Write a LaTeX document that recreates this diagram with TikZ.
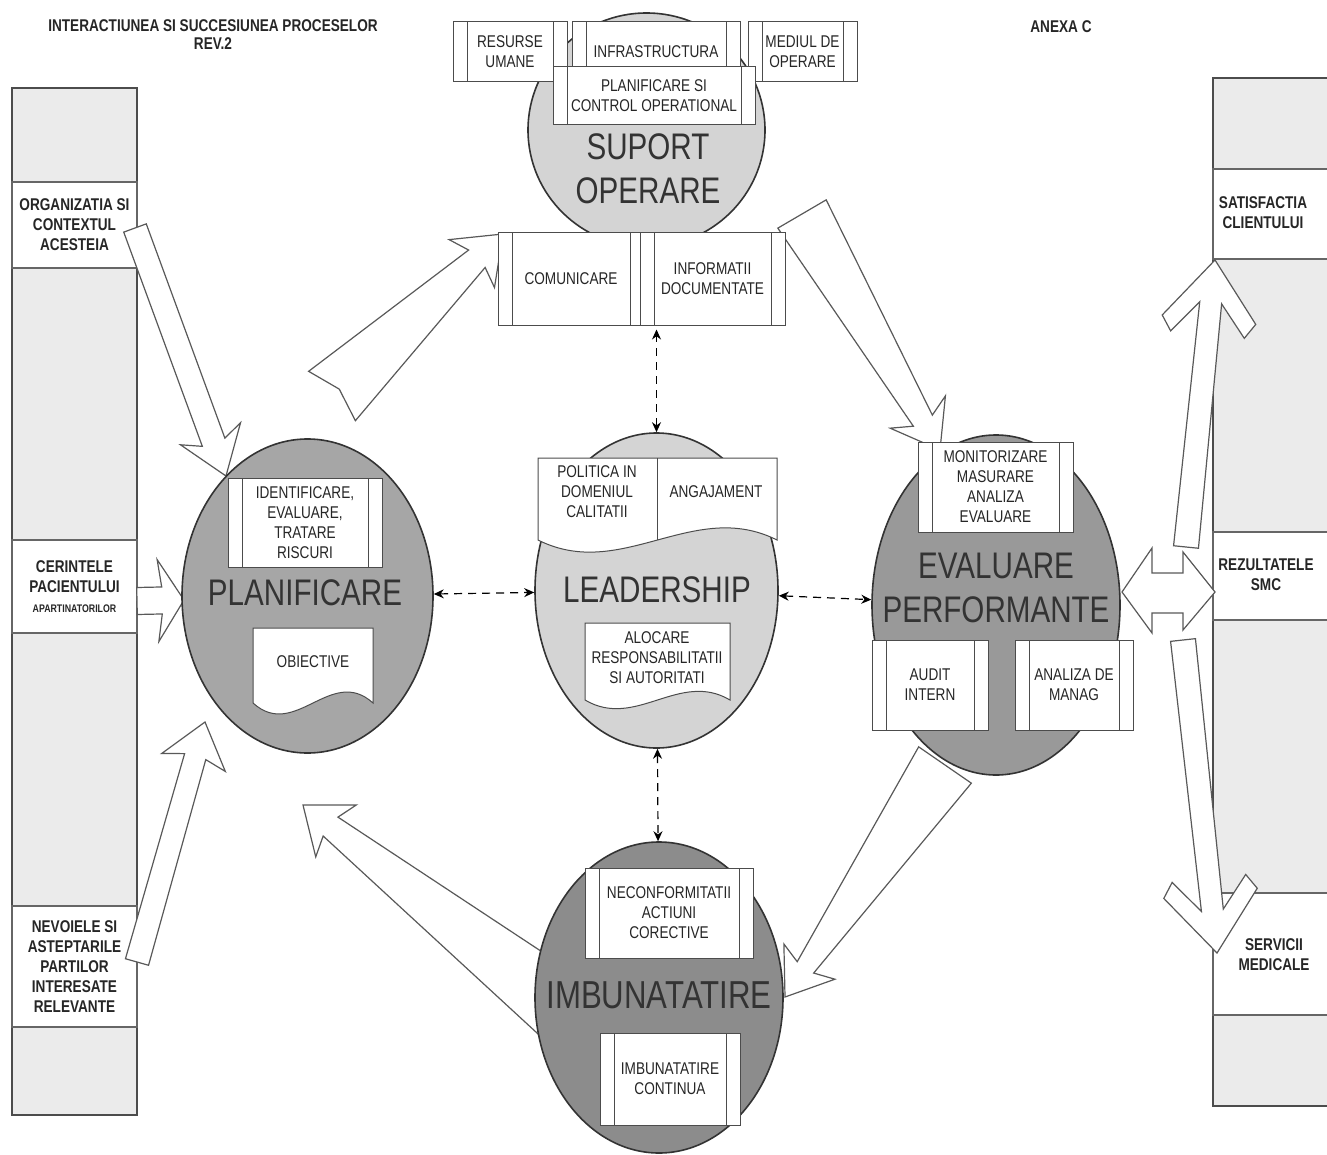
\documentclass[tikz,border=0pt]{standalone}
\usepackage{fontspec}
\setmainfont[FakeStretch=0.8]{Liberation Sans}
\usetikzlibrary{calc,shapes.geometric,arrows.meta}

\tikzset{
  colframe/.style={draw=black!70, line width=1pt, fill=black!8},
  colsec/.style={draw=black!60, line width=0.7pt, fill=white, inner sep=1pt, align=center,
    font=\bfseries\fontsize{8.5}{10}\selectfont, text=black!85},
  collbl/.style={inner sep=0pt, align=center, font=\bfseries\fontsize{8.5}{10}\selectfont, text=black!85},
  titlelbl/.style={inner sep=0pt, align=center, font=\bfseries\fontsize{8.5}{9}\selectfont, text=black!85},
  lbl/.style={inner sep=0pt, align=center, font=\fontsize{8.5}{10}\selectfont, text=black!85},
  biglbl/.style={inner sep=0pt, align=center, font=\fontsize{18.5}{22}\selectfont, text=black!80},
  proc/.style={ellipse, draw=black!80, line width=0.8pt, inner sep=0pt},
  procbox/.style={draw=black!70, fill=white, line width=0.5pt, inner sep=1pt, align=center,
    font=\fontsize{8.5}{10}\selectfont, text=black!85,
    path picture={\draw[black!70, line width=0.5pt]
      ([xshift=7pt]path picture bounding box.south west) -- ([xshift=7pt]path picture bounding box.north west)
      ([xshift=-7pt]path picture bounding box.south east) -- ([xshift=-7pt]path picture bounding box.north east);}},
  docbox/.style={draw=black!70, fill=white, line width=0.5pt},
  blockarr/.style={draw=black!65, fill=white, line width=0.6pt, line join=miter},
  dasharrow/.style={draw=black, line width=0.6pt, dash pattern=on 4pt off 3pt,
    {Stealth[length=5pt,width=4.5pt]}-{Stealth[length=5pt,width=4.5pt]}}
}

% tail, tip, tail half, neck half, head half, head back, neck back, tail notch
\newcommand{\blockarrow}[8]{%
  \coordinate (ba-n) at ($(#2)!#7!(#1)$);
  \coordinate (ba-b) at ($(#2)!#6!(#1)$);
  \coordinate (ba-t) at ($(#1)!#8!(#2)$);
  \draw[blockarr] ($(#1)!#3!90:(#2)$) -- ($(ba-n)!#4!90:(#2)$) -- ($(ba-b)!#5!90:(#2)$) -- (#2)
    -- ($(ba-b)!#5!-90:(#2)$) -- ($(ba-n)!#4!-90:(#2)$) -- ($(#1)!#3!-90:(#2)$) -- (ba-t) -- cycle;
}
% tail, tip, tail half, neck half, neck back, outer half, outer back, inner half, inner back
\newcommand{\forkarrow}[9]{%
  \coordinate (fa-n) at ($(#2)!#5!(#1)$);
  \coordinate (fa-o) at ($(#2)!#7!(#1)$);
  \coordinate (fa-i) at ($(#2)!#9!(#1)$);
  \draw[blockarr] (#2) -- ($(fa-o)!#6!90:(#2)$) -- ($(fa-i)!#8!90:(#2)$) -- ($(fa-n)!#4!90:(#2)$) -- ($(#1)!#3!90:(#2)$)
    -- ($(#1)!#3!-90:(#2)$) -- ($(fa-n)!#4!-90:(#2)$) -- ($(fa-i)!#8!-90:(#2)$) -- ($(fa-o)!#6!-90:(#2)$) -- cycle;
}
% x1, y1, x2, y2, wave
\newcommand{\docshape}[5]{%
  \draw[docbox] (#1,#2) -- (#3,#2) -- (#3,#4) .. controls ({#3-0.35*(#3-#1)},{#4-#5}) and ({#1+0.35*(#3-#1)},{#4+#5}) .. (#1,#4) -- cycle;
}

\begin{document}
\begin{tikzpicture}[x=0.50pt,y=0.50pt,yscale=-1,xscale=1]
\useasboundingbox (0,0) rectangle (1327,1155);

% Text Node
\node[titlelbl] (title) at (213,35) {INTERACTIUNEA SI SUCCESIUNEA PROCESELOR\\REV.2};
% Text Node
\node[titlelbl] (anexa) at (1061,27) {ANEXA C};

%Shape: Rectangle (left column)
\draw[colframe] (12,88) rectangle (137,1115);
\node[colsec, minimum width=62.5pt, minimum height=43pt] (org) at (74.5,225) {ORGANIZATIA SI\\CONTEXTUL\\ACESTEIA};
\node[colsec, minimum width=62.5pt, minimum height=46.5pt] (cerinte) at (74.5,586.5) {CERINTELE\\PACIENTULUI\\{\fontsize{5.5}{7}\selectfont APARTINATORILOR}};
\node[colsec, minimum width=62.5pt, minimum height=60.5pt] (nevoi) at (74.5,966.5) {NEVOIELE SI\\ASTEPTARILE\\PARTILOR\\INTERESATE\\RELEVANTE};

%Shape: Rectangle (right column)
\draw[colframe] (1213,78) rectangle (1340,1106);
\node[colsec, minimum width=63.5pt, minimum height=45pt] (satisf) at (1276.5,214) {};
\node[colsec, minimum width=63.5pt, minimum height=44pt] (rezult) at (1276.5,576) {};
\node[colsec, minimum width=63.5pt, minimum height=61pt] (servicii) at (1276.5,954) {};
% Text Node
\node[collbl] (satisf-t) at (1263,213) {SATISFACTIA\\CLIENTULUI};
\node[collbl] (rezult-t) at (1266,575) {REZULTATELE\\SMC};
\node[collbl] (servicii-t) at (1274,955) {SERVICII\\MEDICALE};

%Block Arrows
\coordinate (a1-tail) at (135,228);
\coordinate (a1-tip) at (226,476);
\blockarrow{a1-tail}{a1-tip}{6pt}{6pt}{16pt}{22.5pt}{18pt}{0pt}
\coordinate (a2-tail) at (137,601);
\coordinate (a2-tip) at (184,600);
\blockarrow{a2-tail}{a2-tip}{6.75pt}{6.75pt}{20.5pt}{13pt}{11pt}{0pt}
\coordinate (a3-tail) at (137,962);
\coordinate (a3-tip) at (205,722);
\blockarrow{a3-tail}{a3-tip}{6pt}{5.5pt}{16.5pt}{21pt}{18pt}{0pt}
\coordinate (a4-tail) at (332,396);
\coordinate (a4-tip) at (503,234);
\blockarrow{a4-tail}{a4-tip}{17pt}{6pt}{16.5pt}{21.5pt}{18pt}{5pt}
\coordinate (a5-tail) at (802,214);
\coordinate (a5-tip) at (940,450);
\blockarrow{a5-tail}{a5-tip}{14pt}{5.5pt}{16pt}{22pt}{17pt}{0pt}
\coordinate (a6-tail) at (945,765);
\coordinate (a6-tip) at (785,997);
\blockarrow{a6-tail}{a6-tip}{16pt}{5pt}{15.5pt}{21.5pt}{18pt}{0pt}
\coordinate (a7-tail) at (565,1010);
\coordinate (a7-tip) at (303,805);
\blockarrow{a7-tail}{a7-tip}{18pt}{6pt}{16.5pt}{21pt}{17.5pt}{0pt}
\coordinate (a8-l) at (1122,592);
\coordinate (a8-r) at (1215,592);
\draw[blockarr] (a8-l) -- ++(30,-44) -- ++(0,25) -- ++(31,0) -- ++(0,-21) -- (a8-r) -- ++(-32,38) -- ++(0,-17) -- ++(-31,0) -- ++(0,20) -- cycle;
\coordinate (a9-tail) at (1186,547);
\coordinate (a9-tip) at (1215,260);
\forkarrow{a9-tail}{a9-tip}{6.25pt}{5.5pt}{21.5pt}{23.5pt}{30pt}{18.5pt}{37.5pt}
\coordinate (a10-tail) at (1183,640);
\coordinate (a10-tip) at (1217,953);
\forkarrow{a10-tail}{a10-tip}{6.25pt}{5.5pt}{21.5pt}{23.5pt}{30pt}{18.5pt}{37.5pt}

%Shape: Ellipse
\node[proc, fill=black!17, minimum width=118.5pt, minimum height=117pt] (suport) at (646.5,130) {};
\node[proc, fill=black!35, minimum width=125.5pt, minimum height=157pt] (plan) at (307.5,596) {};
\node[proc, fill=black!17, minimum width=121.5pt, minimum height=157.5pt] (lead) at (656.5,590.5) {};
\node[proc, fill=black!40, minimum width=124pt, minimum height=170pt] (eval) at (996,605) {};
\node[proc, fill=black!45, minimum width=124pt, minimum height=155.5pt] (imbun) at (659,997.5) {};

%Shape: Predefined Process (suport)
\node[procbox, minimum width=57pt, minimum height=30pt] (resurse) at (510,52) {RESURSE\\UMANE};
\node[procbox, minimum width=84pt, minimum height=30pt] (infra) at (656,52) {INFRASTRUCTURA};
\node[procbox, minimum width=54.5pt, minimum height=30pt] (mediul) at (802.5,52) {MEDIUL DE\\OPERARE};
\node[procbox, minimum width=101pt, minimum height=29pt] (planctrl) at (654,96) {PLANIFICARE SI\\CONTROL OPERATIONAL};
\node[procbox, minimum width=73pt, minimum height=46pt] (comunic) at (571,279) {COMUNICARE};
\node[procbox, minimum width=72.5pt, minimum height=46pt] (inform) at (712.5,279) {INFORMATII\\DOCUMENTATE};
% Text Node
\node[biglbl] (suport-t) at (648,169) {SUPORT\\OPERARE};

%Shape: Predefined Process (planificare)
\node[procbox, minimum width=77pt, minimum height=44.5pt] (identif) at (305,522.5) {IDENTIFICARE,\\EVALUARE,\\TRATARE\\RISCURI};
%Shape: Document
\docshape{253}{628}{373}{703}{38}
\node[lbl] (obiect) at (313,662) {OBIECTIVE};
% Text Node
\node[biglbl] (plan-t) at (305,593) {PLANIFICARE};

%Shape: Document (leadership)
\docshape{538}{458}{777}{540}{42}
\draw[docbox] (657,458) -- (657,540);
\node[lbl] (politica) at (597,492) {POLITICA IN\\DOMENIUL\\CALITATII};
\node[lbl] (angaj) at (716,492) {ANGAJAMENT};
\docshape{585}{623}{730}{700}{30}
\node[lbl] (alocare) at (657,658) {ALOCARE\\RESPONSABILITATII\\SI AUTORITATI};
% Text Node
\node[biglbl] (lead-t) at (657,590) {LEADERSHIP};

%Shape: Predefined Process (evaluare)
\node[procbox, minimum width=77.5pt, minimum height=45pt] (monitor) at (995.5,487) {MONITORIZARE\\MASURARE\\ANALIZA\\EVALUARE};
\node[procbox, minimum width=58pt, minimum height=45pt] (audit) at (930,685) {AUDIT\\INTERN};
\node[procbox, minimum width=59pt, minimum height=45pt] (analiza) at (1074,685) {ANALIZA DE\\MANAG};
% Text Node
\node[biglbl] (eval-t) at (996,588) {EVALUARE\\PERFORMANTE};

%Shape: Predefined Process (imbunatatire)
\node[procbox, minimum width=84pt, minimum height=45pt] (neconf) at (669,913) {NECONFORMITATII\\ACTIUNI\\CORECTIVE};
\node[procbox, minimum width=70pt, minimum height=46pt] (imbcont) at (670,1079) {IMBUNATATIRE\\CONTINUA};
% Text Node
\node[biglbl, font=\fontsize{19.5}{22}\selectfont] (imbun-t) at (659,995) {IMBUNATATIRE};

%Dashed Lines
\draw[dasharrow] (plan) -- (lead);
\draw[dasharrow] (lead) -- (eval);
\draw[dasharrow, shorten >=2pt] (lead.north) -- (lead.north |- comunic.south);
\draw[dasharrow] (lead) -- (imbun);

\end{tikzpicture}
\end{document}
